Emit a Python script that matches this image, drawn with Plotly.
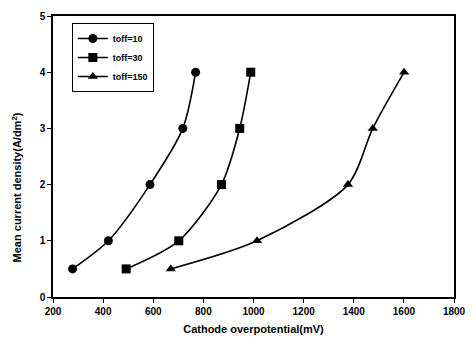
import plotly.graph_objects as go

x_t10 = [278, 421, 587, 718, 769]
y_t10 = [0.5, 1, 2, 3, 4]
x_t30 = [492, 702, 872, 945, 989]
y_t30 = [0.5, 1, 2, 3, 4]
x_t150 = [670, 1014, 1377, 1476, 1601]
y_t150 = [0.5, 1, 2, 3, 4]

series = [
    ("toff=10", x_t10, y_t10, "circle"),
    ("toff=30", x_t30, y_t30, "square"),
    ("toff=150", x_t150, y_t150, "triangle-up"),
]

fig = go.Figure()
for name, xs, ys, sym in series:
    fig.add_trace(go.Scatter(
        x=xs, y=ys, name=name, mode="lines+markers",
        line=dict(color="black", width=1.6, shape="spline", smoothing=0.8),
        marker=dict(symbol=sym, color="black", size=9),
    ))

font = dict(family="Liberation Sans, Arial, sans-serif", color="black", weight="bold")
fig.update_layout(
    width=476, height=347,
    margin=dict(l=53, r=17, t=10, b=50),
    paper_bgcolor="white", plot_bgcolor="white",
    font=dict(size=10, **font),
    showlegend=True,
    legend=dict(x=0.047, y=0.975, xanchor="left", yanchor="top",
                bordercolor="black", borderwidth=1, bgcolor="white",
                font=dict(size=9, **font), tracegroupgap=0,
                itemwidth=30),
    xaxis=dict(
        range=[200, 1800], tickvals=[200, 400, 600, 800, 1000, 1200, 1400, 1600, 1800],
        showline=True, linecolor="black", linewidth=1.5, mirror=True,
        ticks="outside", ticklen=4, tickcolor="black", showgrid=False, zeroline=False,
        title=dict(text="Cathode overpotential(mV)", font=dict(size=11, **font), standoff=10),
        tickfont=dict(size=10, **font),
    ),
    yaxis=dict(
        range=[0, 5], tickvals=[0, 1, 2, 3, 4, 5],
        showline=True, linecolor="black", linewidth=1.5, mirror=True,
        ticks="outside", ticklen=4, tickcolor="black", showgrid=False, zeroline=False,
        tickfont=dict(size=10, **font),
    ),
    annotations=[dict(
        text="Mean current density(A/dm<sup>2</sup>)", textangle=-90,
        xref="paper", yref="paper", x=0, y=0.39, xanchor="center", yanchor="middle",
        xshift=-36, showarrow=False, font=dict(size=11, **font),
    )],
)

fig.write_html("out.html")
